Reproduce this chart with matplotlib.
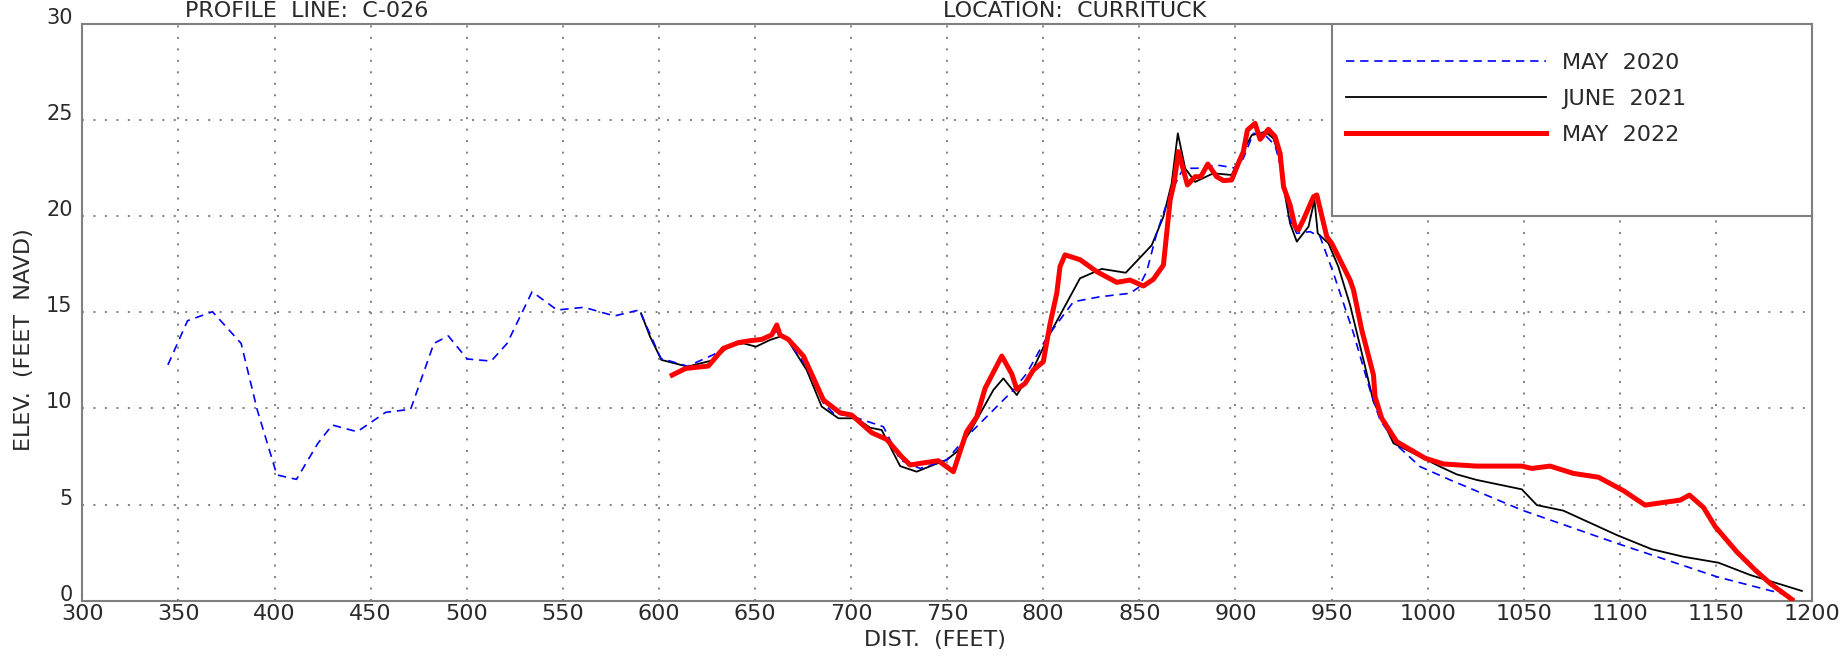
import matplotlib
matplotlib.use("Agg")
import matplotlib.pyplot as plt
from matplotlib.patches import Rectangle

# profile C-026, Currituck
may2020_x = [344.5, 354.7, 367.7, 382.6, 391.0, 401.2, 411.4, 422.5, 430.0, 443.0, 457.8, 470.8,
             482.9, 490.4, 500.2, 512.7, 521.0, 534.0, 547.0, 561.0, 576.8, 589.8, 601.0, 614.9,
             628.3, 638.7, 654.3, 663.0, 676.0, 685.6, 690.8, 701.2, 716.8, 725.5, 735.9, 749.7,
             760.1, 774.0, 784.4, 791.4, 801.8, 815.7, 829.5, 845.1, 849.5, 853.8, 859.0, 866.0,
             872.9, 879.8, 890.2, 900.6, 904.1, 909.3, 915.4, 920.6, 925.0, 928.4, 931.9, 938.8,
             944.0, 951.0, 961.4, 970.0, 975.2, 984.8, 996.1, 1011.7, 1049.0, 1098.4, 1150.4, 1186.9]
may2020_y = [12.27, 14.57, 15.04, 13.39, 9.92, 6.54, 6.31, 8.18, 9.14, 8.79, 9.80, 9.96,
             13.39, 13.78, 12.58, 12.47, 13.39, 16.08, 15.13, 15.27, 14.82, 15.13, 12.61, 12.20,
             12.80, 13.39, 13.65, 14.09, 12.30, 10.27, 9.75, 9.57, 9.05, 7.32, 6.88, 7.32,
             8.53, 9.92, 10.96, 11.83, 13.70, 15.56, 15.82, 16.00, 16.30, 17.13, 19.12, 21.20,
             22.51, 22.51, 22.68, 22.51, 23.03, 24.33, 24.24, 23.70, 22.07, 19.82, 19.12, 19.21,
             18.95, 17.04, 13.92, 10.96, 9.40, 8.01, 6.97, 6.28, 4.71, 2.98, 1.24, 0.29]

june2021_x = [590.7, 595.4, 601.3, 614.9, 628.3, 637.0, 644.0, 650.5, 657.8, 663.0, 666.5, 676.9,
              684.7, 693.4, 702.9, 709.8, 715.9, 725.5, 734.1, 742.8, 749.7, 755.0, 761.9, 774.0,
              779.2, 786.2, 794.8, 803.5, 819.1, 830.4, 842.9, 856.4, 862.5, 866.8, 870.0, 873.8,
              879.0, 888.5, 898.0, 902.4, 908.5, 912.8, 915.4, 919.7, 922.3, 925.0, 928.4, 931.9,
              938.0, 941.1, 942.8, 948.4, 953.5, 959.6, 966.6, 971.8, 975.2, 982.2, 1006.5, 1015.1,
              1025.5, 1049.0, 1056.8, 1070.6, 1098.4, 1116.6, 1133.1, 1151.3, 1167.8, 1194.7]
june2021_y = [14.96, 13.74, 12.53, 12.18, 12.52, 13.30, 13.39, 13.22, 13.57, 13.74, 13.65, 12.00,
              10.10, 9.49, 9.49, 9.00, 8.88, 7.00, 6.71, 7.06, 7.32, 7.75, 8.79, 10.96,
              11.57, 10.70, 12.09, 13.90, 16.78, 17.27, 17.07, 18.50, 19.99, 21.73, 24.33, 22.51,
              21.80, 22.25, 22.16, 23.12, 24.24, 24.33, 24.42, 24.07, 23.29, 21.55, 19.64, 18.69,
              19.47, 20.86, 19.12, 18.60, 17.39, 15.40, 12.53, 10.36, 9.66, 8.19, 6.97, 6.57,
              6.28, 5.79, 4.97, 4.68, 3.41, 2.67, 2.28, 1.97, 1.33, 0.50]

may2022_x = [606.9, 614.0, 625.7, 633.5, 641.3, 647.4, 653.5, 658.7, 661.3, 663.0, 667.3, 675.2,
             685.6, 694.2, 700.3, 710.7, 718.5, 726.3, 730.7, 738.5, 745.4, 753.2, 760.1, 765.4,
             769.7, 778.4, 783.6, 786.2, 790.5, 794.8, 800.0, 803.5, 807.0, 808.7, 811.3, 819.1,
             827.8, 838.2, 845.1, 852.1, 857.3, 862.5, 864.2, 866.0, 868.0, 870.3, 875.0, 879.0,
             881.9, 885.6, 890.2, 893.7, 898.0, 901.5, 904.1, 906.2, 910.2, 912.8, 917.1, 920.6,
             923.2, 925.0, 928.4, 931.0, 932.7, 935.3, 940.6, 942.3, 947.5, 950.1, 959.6, 961.4,
             965.7, 971.8, 972.6, 976.1, 983.9, 998.7, 1008.2, 1025.5, 1049.0, 1054.2, 1063.7, 1075.8,
             1088.9, 1101.9, 1113.1, 1131.4, 1136.2, 1143.5, 1149.6, 1160.8, 1170.4, 1178.2, 1189.5]
may2022_y = [11.74, 12.09, 12.21, 13.13, 13.43, 13.53, 13.60, 13.83, 14.35, 13.83, 13.60, 12.73,
             10.44, 9.78, 9.66, 8.74, 8.39, 7.49, 7.06, 7.18, 7.28, 6.71, 8.79, 9.57,
             11.05, 12.73, 11.80, 11.00, 11.30, 12.00, 12.44, 14.40, 16.00, 17.39, 18.00, 17.75,
             17.13, 16.57, 16.69, 16.38, 16.73, 17.47, 19.12, 20.86, 21.73, 23.38, 21.64, 22.07,
             22.07, 22.73, 22.07, 21.87, 21.90, 22.77, 23.38, 24.50, 24.85, 24.02, 24.54, 24.16,
             23.29, 21.55, 20.60, 19.47, 19.30, 19.82, 21.03, 21.12, 18.95, 18.60, 16.69, 16.17,
             14.09, 11.74, 10.62, 9.49, 8.27, 7.41, 7.11, 7.00, 7.00, 6.88, 7.00, 6.62,
             6.42, 5.72, 4.97, 5.23, 5.49, 4.85, 3.85, 2.54, 1.59, 0.89, 0.06]

x_ticks = list(range(300, 1201, 50))
y_ticks = list(range(0, 31, 5))

plt.rcParams['font.family'] = ['DejaVu Sans']
txt_color = '#2a2a2a'
frame_color = '#7f7f7f'

fig = plt.figure(figsize=(18.43, 6.61), dpi=100)
ax = fig.add_axes([0.0447, 0.0915, 0.9385, 0.8715])

# dotted grid, drawn by hand so it sits under the legend box
for xv in x_ticks[1:-1]:
    ax.plot([xv, xv], [0, 30], color=frame_color, lw=1.4, ls=(0, (1, 4.9)), zorder=1)
for yv in y_ticks[1:-1]:
    ax.plot([300, 1200], [yv, yv], color=frame_color, lw=1.4, ls=(0, (1, 4.9)), zorder=1)

l1, = ax.plot(may2020_x, may2020_y, color='#0000ff', lw=1.2, ls=(0, (5, 3.5)), zorder=4)
l2, = ax.plot(june2021_x, june2021_y, color='black', lw=1.3, zorder=3)
l3, = ax.plot(may2022_x, may2022_y, color='#ff0000', lw=3.6, solid_joinstyle='round', zorder=5)

# legend box in the upper right corner
ax.add_patch(Rectangle((950, 20), 250, 10, facecolor='white', edgecolor=frame_color,
                       lw=1.5, zorder=6))
leg = ax.legend([l1, l2, l3], ['MAY  2020', 'JUNE  2021', 'MAY  2022'],
                loc='upper left', bbox_to_anchor=(1346 / 1843, 1 - 53 / 661),
                bbox_transform=fig.transFigure, frameon=False, fontsize=16,
                handlelength=9.0, handletextpad=0.72, labelspacing=0.72,
                borderpad=0, borderaxespad=0)
leg.set_zorder(7)
for t in leg.get_texts():
    t.set_color(txt_color)

ax.set_xlim(300, 1200)
ax.set_ylim(0, 30)
ax.set_xticks(x_ticks)
ax.set_yticks(y_ticks)
ax.tick_params(length=0, labelcolor=txt_color)
ax.tick_params(axis='y', pad=7, labelsize=15)
ax.tick_params(axis='x', pad=2.5, labelsize=16)
for lab in ax.get_yticklabels():
    lab.set_va('baseline')
for s in ax.spines.values():
    s.set_color(frame_color)
    s.set_linewidth(1.5)

ax.set_xlabel('DIST.  (FEET)', fontsize=16, color=txt_color)
ax.set_ylabel('ELEV.  (FEET  NAVD)', fontsize=16, color=txt_color)
ax.xaxis.set_label_coords(0.493, -0.052)
ax.yaxis.set_label_coords(-0.028, 0.453)

fig.text(307 / 1843, 1 - 11 / 661, 'PROFILE  LINE:  C-026', ha='center', va='center',
         fontsize=16, color=txt_color)
fig.text(1075 / 1843, 1 - 11 / 661, 'LOCATION:  CURRITUCK', ha='center', va='center',
         fontsize=16, color=txt_color)

fig.savefig('out.png', dpi=100)
